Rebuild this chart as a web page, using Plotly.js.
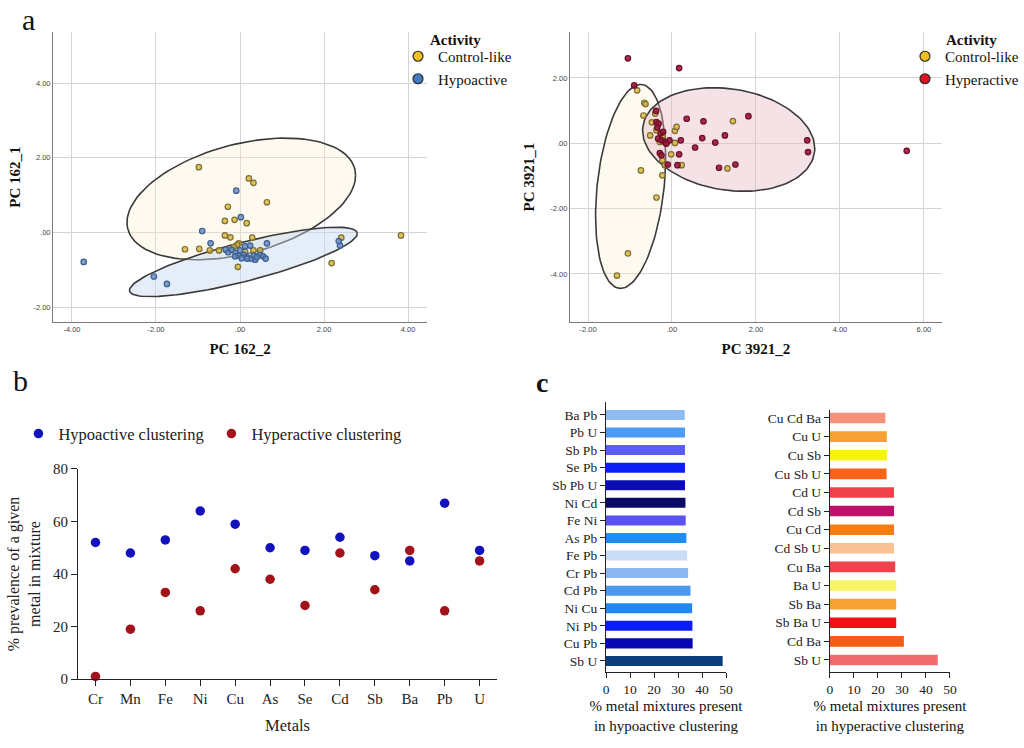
<!DOCTYPE html>
<html>
<head>
<meta charset="utf-8">
<script src="https://cdn.plot.ly/plotly-3.0.1.min.js"></script>
<style>
  html, body { margin: 0; padding: 0; background: #ffffff; }
  #chart { width: 1024px; height: 748px; }
</style>
</head>
<body>
<div id="chart"></div>
<script>
// ---------------- Panel a (left): PC 162 ----------------
const pc162CtrlX = [-0.98, 0.21, 0.32, 0.64, -0.29, -0.36, -0.13, 0.16, -0.36, -0.23, 0.29, -1.31, -0.97, -0.72, -0.50, -0.03, -0.07, 0.32, 0.12, 0.48, -0.15, -0.05, 3.83, 2.18, 2.41];
const pc162CtrlY = [1.75, 1.45, 1.33, 0.81, 0.69, 0.31, 0.34, 0.25, -0.08, -0.13, -0.14, -0.45, -0.44, -0.48, -0.48, -0.29, -0.33, -0.48, -0.52, -0.48, -0.39, -0.92, -0.08, -0.82, -0.14];
const pc162HypoX = [-3.72, -2.05, -1.74, -0.09, 0.02, -0.90, -0.70, 0.64, 2.35, 2.38, -0.34, -0.28, -0.20, -0.10, 0.00, 0.09, 0.16, 0.24, 0.36, 0.26, 0.48, 0.55, 0.61, 0.12, -0.04, -0.12, 0.33, 0.04, 0.17, 0.40];
const pc162HypoY = [-0.79, -1.18, -1.38, 1.12, 0.41, 0.04, -0.29, -0.29, -0.23, -0.35, -0.46, -0.53, -0.46, -0.55, -0.48, -0.60, -0.66, -0.35, -0.73, -0.70, -0.60, -0.64, -0.70, -0.37, -0.62, -0.64, -0.62, -0.69, -0.70, -0.66];
// ellipse: [centerX, centerY, halfExtentX, halfExtentY, yOffsetOfRightmostPoint]
const pc162CtrlEllipse = [0.03, 0.90, 2.72, 1.63, 0.63];
const pc162HypoEllipse = [0.08, -0.79, 2.71, 0.93, 0.76];
const pc162TickVals = [-4, -2, 0, 2, 4];
const pc162TickText = ['-4.00', '-2.00', '.00', '2.00', '4.00'];

// ---------------- Panel a (right): PC 3921 ----------------
const pc3921CtrlX = [-0.83, -0.66, -0.63, -0.68, -0.48, -0.40, -0.52, -0.37, 0.07, 0.11, 0.07, -0.02, -0.23, 0.23, 1.45, 1.32, -0.74, -0.23, -0.37, -1.05, -1.31, -0.29, -0.13, -0.17, -0.22];
const pc3921CtrlY = [1.62, 1.24, 1.20, 0.85, 0.64, 0.91, 0.24, 0.40, 0.38, 0.50, 0.01, -0.34, -0.52, -0.67, 0.68, -0.77, -0.83, -0.98, -1.66, -3.37, -4.05, 0.04, -0.01, -0.67, 0.21];
const pc3921HyperX = [-1.05, 0.17, -0.90, 0.35, 0.75, 1.82, 1.26, 0.72, 1.03, 0.55, 0.17, 0.21, 1.12, 1.51, 3.22, 3.24, 5.59, 0.13, -0.10, -0.38, -0.37, -0.32, -0.35, -0.27, -0.21, -0.33, -0.25, -0.17, -0.06, -0.14, -0.29, -0.25];
const pc3921HyperY = [2.60, 2.30, 1.77, 0.75, 0.67, 0.83, 0.24, 0.16, 0.02, -0.13, -0.34, 0.09, -0.75, -0.65, 0.09, -0.27, -0.23, -0.67, -0.65, 0.99, 0.65, 0.60, 0.48, 0.30, 0.35, 0.14, 0.09, 0.04, 0.09, -0.01, -0.30, -0.37];
const pc3921CtrlEllipse = [-0.985, -1.32, 0.835, 3.12, 0.90];
const pc3921HyperEllipse = [1.35, 0.115, 2.05, 1.585, -0.275];
const pc3921XTickVals = [-2, 0, 2, 4, 6];
const pc3921XTickText = ['-2.00', '.00', '2.00', '4.00', '6.00'];
const pc3921YTickVals = [-4, -2, 0, 2];
const pc3921YTickText = ['-4.00', '-2.00', '.00', '2.00'];

// ---------------- Panel b ----------------
const metals = ['Cr', 'Mn', 'Fe', 'Ni', 'Cu', 'As', 'Se', 'Cd', 'Sb', 'Ba', 'Pb', 'U'];
const hypoPrevalence = [52, 48, 53, 64, 59, 50, 49, 54, 47, 45, 67, 49];
const hyperPrevalence = [1, 19, 33, 26, 42, 38, 28, 48, 34, 49, 26, 45];

// ---------------- Panel c ----------------
const hypoMixtures = ['Ba Pb', 'Pb U', 'Sb Pb', 'Se Pb', 'Sb Pb U', 'Ni Cd', 'Fe Ni', 'As Pb', 'Fe Pb', 'Cr Pb', 'Cd Pb', 'Ni Cu', 'Ni Pb', 'Cu Pb', 'Sb U'];
const hypoMixturePct = [32.8, 32.9, 32.9, 32.9, 32.9, 33.1, 33.2, 33.5, 33.8, 34.2, 35.2, 35.9, 36.0, 36.1, 48.6];
const hyperMixtures = ['Cu Cd Ba', 'Cu U', 'Cu Sb', 'Cu Sb U', 'Cd U', 'Cd Sb', 'Cu Cd', 'Cd Sb U', 'Cu Ba', 'Ba U', 'Sb Ba', 'Sb Ba U', 'Cd Ba', 'Sb U'];
const hyperMixturePct = [23.1, 23.7, 23.7, 23.6, 26.7, 26.7, 26.7, 26.7, 27.2, 27.6, 27.6, 27.6, 30.8, 44.9];

// styles
const hypoBarColors = ['#8fbaf2', '#4b9cf2', '#5b5cf2', '#0b1ff5', '#0a0cb2', '#0a0a66', '#5a52f0', '#1f8cf2', '#cbdcf6', '#8cb6f0', '#4b98ee', '#1f88f2', '#0b1df5', '#0808b2', '#0b3d7c'];
const hyperBarColors = ['#f59079', '#f6a232', '#f6f312', '#f66414', '#f0424a', '#c0106c', '#f67c12', '#f8c294', '#f0424a', '#f8f664', '#f6a232', '#f01212', '#f65c12', '#f06c6c'];

const SERIF = '"Liberation Serif", "Times New Roman", serif';
const SANS = '"Liberation Sans", Arial, sans-serif';

function ellipse(p) {
  const [cx, cy, rx, ry, dy] = p;
  const by = Math.sqrt(ry * ry - dy * dy);
  const xs = [], ys = [];
  for (let i = 0; i <= 120; i++) {
    const t = 2 * Math.PI * i / 120;
    xs.push(cx + rx * Math.cos(t));
    ys.push(cy + dy * Math.cos(t) + by * Math.sin(t));
  }
  return { x: xs, y: ys };
}

function ellTrace(p, fill, xa, ya) {
  const e = ellipse(p);
  return {
    type: 'scatter', mode: 'lines', x: e.x, y: e.y, xaxis: xa, yaxis: ya,
    fill: 'toself', fillcolor: fill, line: { color: '#3a3a3a', width: 1.6 },
    hoverinfo: 'skip', showlegend: false
  };
}

function pts(x, y, fill, edge, xa, ya) {
  return {
    type: 'scatter', mode: 'markers', x: x, y: y, xaxis: xa, yaxis: ya,
    marker: { size: 5.5, color: fill, line: { color: edge, width: 1.2 } },
    showlegend: false, hoverinfo: 'x+y'
  };
}

function legendOnly(name, fill, legend, xa, ya) {
  return {
    type: 'scatter', mode: 'markers', x: [null], y: [null], xaxis: xa, yaxis: ya,
    name: name, legend: legend,
    marker: { size: 10, color: fill, line: { color: '#2a2a2a', width: 1.2 } }
  };
}

const traces = [
  ellTrace(pc162CtrlEllipse, 'rgba(252,240,205,0.32)', 'x', 'y'),
  ellTrace(pc162HypoEllipse, 'rgba(195,215,240,0.45)', 'x', 'y'),
  pts(pc162CtrlX, pc162CtrlY, 'rgba(215,180,50,0.8)', '#7d6e34', 'x', 'y'),
  pts(pc162HypoX, pc162HypoY, 'rgba(95,135,195,0.8)', '#3f5f8c', 'x', 'y'),
  legendOnly('Control-like', '#f0c020', 'legend', 'x', 'y'),
  legendOnly('Hypoactive', '#3f7cc4', 'legend', 'x', 'y'),

  ellTrace(pc3921CtrlEllipse, 'rgba(252,240,205,0.32)', 'x2', 'y2'),
  ellTrace(pc3921HyperEllipse, 'rgba(230,180,190,0.38)', 'x2', 'y2'),
  pts(pc3921CtrlX, pc3921CtrlY, 'rgba(215,180,50,0.8)', '#7d6e34', 'x2', 'y2'),
  pts(pc3921HyperX, pc3921HyperY, 'rgba(160,20,60,0.9)', '#6a1028', 'x2', 'y2'),
  legendOnly('Control-like', '#f0c020', 'legend2', 'x2', 'y2'),
  legendOnly('Hyperactive', '#e01020', 'legend2', 'x2', 'y2'),

  {
    type: 'scatter', mode: 'markers', x: metals, y: hypoPrevalence, xaxis: 'x3', yaxis: 'y3',
    name: 'Hypoactive clustering', legend: 'legend3', cliponaxis: false,
    marker: { size: 9.5, color: '#1212bc' }
  },
  {
    type: 'scatter', mode: 'markers', x: metals, y: hyperPrevalence, xaxis: 'x3', yaxis: 'y3',
    name: 'Hyperactive clustering', legend: 'legend3', cliponaxis: false,
    marker: { size: 9.5, color: '#a3121a' }
  },

  {
    type: 'bar', orientation: 'h', x: hypoMixturePct, y: hypoMixtures, xaxis: 'x4', yaxis: 'y4',
    marker: { color: hypoBarColors }, showlegend: false
  },
  {
    type: 'bar', orientation: 'h', x: hyperMixturePct, y: hyperMixtures, xaxis: 'x5', yaxis: 'y5',
    marker: { color: hyperBarColors }, showlegend: false
  }
];

const scatAxis = {
  showgrid: true, gridcolor: '#d4d4d4', gridwidth: 1, zeroline: false,
  showline: true, linecolor: '#7a7a7a', linewidth: 1, ticks: '',
  tickfont: { family: SANS, size: 7.5, color: '#444' }, tickmode: 'array'
};

const serifAxis = {
  showgrid: false, zeroline: false, showline: true, linecolor: '#222', linewidth: 1.3,
  ticks: 'outside', ticklen: 6, tickwidth: 1.3, tickcolor: '#222',
  tickfont: { family: SERIF, size: 15, color: '#222' }
};

const layout = {
  width: 1024, height: 748,
  margin: { l: 0, r: 0, t: 0, b: 0 },
  paper_bgcolor: '#ffffff', plot_bgcolor: '#ffffff',
  bargap: 0.43,
  xaxis: Object.assign({}, scatAxis, {
    domain: [0.0518, 0.417], range: [-4.45, 4.45], anchor: 'y',
    tickvals: pc162TickVals, ticktext: pc162TickText,
    title: { text: '<b>PC 162_2</b>', font: { family: SERIF, size: 15, color: '#111' }, standoff: 10 }
  }),
  yaxis: Object.assign({}, scatAxis, {
    domain: [0.5695, 0.957], range: [-2.4, 5.37], anchor: 'x',
    tickvals: pc162TickVals, ticktext: pc162TickText,
    title: { text: '<b>PC 162_1</b>', font: { family: SERIF, size: 15, color: '#111' }, standoff: 9 }
  }),
  xaxis2: Object.assign({}, scatAxis, {
    domain: [0.5566, 0.9199], range: [-2.43, 6.43], anchor: 'y2',
    tickvals: pc3921XTickVals, ticktext: pc3921XTickText,
    title: { text: '<b>PC 3921_2</b>', font: { family: SERIF, size: 15, color: '#111' }, standoff: 10 }
  }),
  yaxis2: Object.assign({}, scatAxis, {
    domain: [0.5695, 0.957], range: [-5.47, 3.40], anchor: 'x2',
    tickvals: pc3921YTickVals, ticktext: pc3921YTickText,
    title: { text: '<b>PC 3921_1</b>', font: { family: SERIF, size: 15, color: '#111' }, standoff: 12 }
  }),
  xaxis3: Object.assign({}, serifAxis, {
    domain: [0.0762, 0.4854], range: [-0.5, 11.5], anchor: 'y3', type: 'category',
    categoryorder: 'array', categoryarray: metals,
    title: { text: 'Metals', font: { family: SERIF, size: 16.5, color: '#222' }, standoff: 13 }
  }),
  yaxis3: Object.assign({}, serifAxis, {
    domain: [0.0922, 0.373], range: [0, 80], dtick: 20, anchor: 'x3',
    title: { text: '% prevalence of a given<br>metal in mixture', font: { family: SERIF, size: 16, color: '#222' }, standoff: 8 }
  }),
  xaxis4: Object.assign({}, serifAxis, {
    domain: [0.5918, 0.709], range: [0, 50], dtick: 10, anchor: 'y4', ticklen: 5,
    tickfont: { family: SERIF, size: 13.5, color: '#222' },
    title: { text: '% metal mixtures present<br>in hypoactive clustering', font: { family: SERIF, size: 15, color: '#111' }, standoff: 4 }
  }),
  yaxis4: Object.assign({}, serifAxis, {
    domain: [0.1016, 0.4626], range: [14.63, -0.74], anchor: 'x4', type: 'category', ticklen: 5,
    tickfont: { family: SERIF, size: 13.5, color: '#222' }
  }),
  xaxis5: Object.assign({}, serifAxis, {
    domain: [0.8105, 0.9277], range: [0, 50], dtick: 10, anchor: 'y5', ticklen: 5,
    tickfont: { family: SERIF, size: 13.5, color: '#222' },
    title: { text: '% metal mixtures present<br>in hyperactive clustering', font: { family: SERIF, size: 15, color: '#111' }, standoff: 4 }
  }),
  yaxis5: Object.assign({}, serifAxis, {
    domain: [0.1016, 0.4519], range: [13.645, -0.43], anchor: 'x5', type: 'category', ticklen: 5,
    tickfont: { family: SERIF, size: 13.5, color: '#222' }
  }),
  legend: {
    bgcolor: 'rgba(0,0,0,0)', font: { family: SERIF, size: 15, color: '#111' },
    xanchor: 'left', yanchor: 'top', tracegroupgap: 0, itemwidth: 30,
    x: 398 / 1024, y: 1 - 40 / 748
  },
  legend2: {
    bgcolor: 'rgba(0,0,0,0)', font: { family: SERIF, size: 15, color: '#111' },
    xanchor: 'left', yanchor: 'top', tracegroupgap: 0, itemwidth: 30,
    x: 905 / 1024, y: 1 - 40 / 748
  },
  legend3: {
    bgcolor: 'rgba(0,0,0,0)', font: { family: SERIF, size: 16.5, color: '#222' },
    orientation: 'h', x: 0.018, y: 0.42, xanchor: 'left', yanchor: 'middle',
    entrywidth: 148, entrywidthmode: 'pixels', itemwidth: 30
  },
  annotations: [
    { text: 'a', xref: 'paper', yref: 'paper', x: 28 / 1024, y: 1 - 20 / 748, xanchor: 'center', yanchor: 'middle', showarrow: false, font: { family: SERIF, size: 30, color: '#111' } },
    { text: 'b', xref: 'paper', yref: 'paper', x: 20 / 1024, y: 1 - 380 / 748, xanchor: 'center', yanchor: 'middle', showarrow: false, font: { family: SERIF, size: 30, color: '#111' } },
    { text: '<b>c</b>', xref: 'paper', yref: 'paper', x: 542 / 1024, y: 1 - 382 / 748, xanchor: 'center', yanchor: 'middle', showarrow: false, font: { family: SERIF, size: 28, color: '#111' } },
    { text: '<b>Activity</b>', xref: 'paper', yref: 'paper', x: 428 / 1024, y: 1 - 40 / 748, xanchor: 'left', yanchor: 'middle', showarrow: false, font: { family: SERIF, size: 15, color: '#111' } },
    { text: '<b>Activity</b>', xref: 'paper', yref: 'paper', x: 944 / 1024, y: 1 - 40 / 748, xanchor: 'left', yanchor: 'middle', showarrow: false, font: { family: SERIF, size: 15, color: '#111' } }
  ]
};

Plotly.newPlot('chart', traces, layout, { displayModeBar: false });
</script>
</body>
</html>
